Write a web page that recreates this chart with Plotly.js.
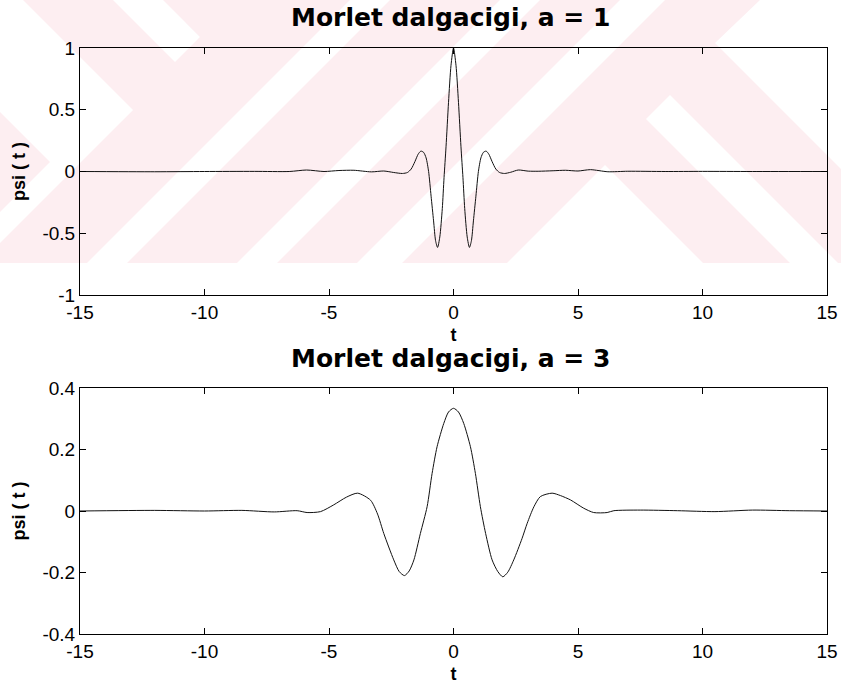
<!DOCTYPE html>
<html>
<head>
<meta charset="utf-8">
<script src="https://cdn.plot.ly/plotly-3.0.1.min.js"></script>
<style>
  html, body { margin: 0; padding: 0; background: #ffffff; }
  #chart { width: 841px; height: 688px; }
</style>
</head>
<body>
<div id="chart"></div>
<script>
// ---------- data ----------
const titles = ["Morlet dalgacigi, a = 1", "Morlet dalgacigi, a = 3"];
const xLabel = "t";
const yLabel = "psi ( t )";

// a = 1
const t1 = [-15, -12, -10, -8, -6.6, -5.9, -5.2, -4.6, -4.0, -3.3, -2.8, -2.4, -2.05, -1.85, -1.7, -1.55, -1.42, -1.31, -1.2, -1.1, -1.0, -0.9, -0.8, -0.72, -0.64, -0.55, -0.45, -0.38, -0.3, -0.2, -0.1, 0,
            0.1, 0.2, 0.3, 0.38, 0.45, 0.55, 0.64, 0.72, 0.8, 0.9, 1.0, 1.1, 1.2, 1.31, 1.42, 1.55, 1.7, 1.85, 2.05, 2.3, 2.6, 3.0, 3.4, 4.0, 4.5, 5.0, 5.5, 6.2, 7.0, 8.5, 10, 12, 15];
const psi1 = [0, -0.002, 0, 0.001, 0, 0.012, 0, 0.008, 0.01, -0.003, 0.004, -0.008, -0.016, -0.008, 0.02, 0.08, 0.14, 0.165, 0.155, 0.11, 0.0, -0.2, -0.4, -0.56, -0.615, -0.53, -0.3, -0.05, 0.2, 0.56, 0.86, 1.0,
              0.86, 0.56, 0.2, -0.05, -0.3, -0.53, -0.615, -0.56, -0.4, -0.2, 0.0, 0.11, 0.155, 0.165, 0.14, 0.08, 0.02, -0.008, -0.016, -0.006, 0.012, 0.003, 0.002, 0.006, 0.01, 0.004, 0.015, -0.002, 0.002, 0, 0.001, 0, 0];

// a = 3
const t3 = [-15, -12, -10, -8.5, -7.2, -6.28, -5.88, -5.34, -4.81, -4.3, -3.85, -3.33, -3.05, -2.8, -2.4, -2.18, -1.97, -1.78, -1.59, -1.33, -1.06, -0.86, -0.66, -0.39, -0.2, 0,
            0.2, 0.41, 0.68, 0.88, 1.08, 1.29, 1.55, 1.78, 1.98, 2.18, 2.42, 2.75, 2.96, 3.23, 3.49, 3.96, 4.3, 4.7, 5.23, 5.63, 6.17, 6.44, 7.5, 9, 10.5, 12, 13.5, 15];
const psi3 = [0, 0.002, 0, 0.002, -0.003, 0.001, -0.005, -0.002, 0.02, 0.045, 0.058, 0.035, -0.01, -0.073, -0.159, -0.197, -0.21, -0.195, -0.159, -0.073, 0.014, 0.122, 0.209, 0.285, 0.322, 0.334,
              0.322, 0.285, 0.209, 0.122, 0.014, -0.073, -0.159, -0.197, -0.214, -0.199, -0.159, -0.09, -0.04, 0.014, 0.047, 0.058, 0.05, 0.036, 0.009, -0.005, -0.005, 0.001, 0.003, 0.001, -0.002, 0.003, 0.001, 0];

// tick labels
const xTicks = [-15, -10, -5, 0, 5, 10, 15];
const xTickText = ["-15", "-10", "-5", "0", "5", "10", "15"];
const yTicks1 = [-1, -0.5, 0, 0.5, 1];
const yTickText1 = ["-1", "-0.5", "0", "0.5", "1"];
const yTicks3 = [-0.4, -0.2, 0, 0.2, 0.4];
const yTickText3 = ["-0.4", "-0.2", "0", "0.2", "0.4"];

// ---------- layout geometry (pixels) ----------
const W = 841, H = 688;
const M = { l: 80, r: 14, t: 48, b: 54 };
const PW = W - M.l - M.r, PH = H - M.t - M.b;
const px2x = x => (x - M.l) / PW;
const py2y = y => (H - M.b - y) / PH;

// faint pink scan watermark (decoration only, pixel polygons)
const PINK = "#fdeef1";
function poly(pts, color) {
  const d = pts.map((p, i) => (i ? "L" : "M") + px2x(p[0]).toFixed(4) + "," + py2y(p[1]).toFixed(4)).join(" ") + " Z";
  return { type: "path", xref: "paper", yref: "paper", path: d, fillcolor: color, line: { width: 0 }, layer: "below" };
}
const shapes = [
  poly([[0,0],[760,0],[715,43],[841,169],[841,263],[0,263]], PINK),
  poly([[0,0],[23,0],[133,110],[0,243]], "#ffffff"),
  poly([[0,112],[50,162],[0,212]], PINK),
  poly([[113,0],[163,0],[200,37],[175,62]], "#ffffff"),
  poly([[350,0],[390,0],[127,263],[87,263]], "#ffffff"),
  poly([[500,0],[540,0],[277,263],[237,263]], "#ffffff"),
  poly([[620,0],[665,0],[402,263],[357,263]], "#ffffff"),
  poly([[646,119],[670,95],[838,263],[790,263]], "#ffffff"),
  poly([[605,165],[703,263],[507,263]], "#ffffff")
];

const tickFont = { family: "Liberation Sans, Arial, sans-serif", size: 19, color: "#000" };
const labFont = { family: "Liberation Sans, Arial, sans-serif", size: 18, color: "#000", weight: "bold" };
const titleFont = { family: "DejaVu Sans, sans-serif", size: 25, color: "#000", weight: "bold" };

const lineStyle = { color: "#111", width: 1, shape: "spline", smoothing: 0.7 };

const data = [
  { x: t1, y: psi1, type: "scatter", mode: "lines", line: lineStyle, xaxis: "x", yaxis: "y", hoverinfo: "x+y" },
  { x: t3, y: psi3, type: "scatter", mode: "lines", line: lineStyle, xaxis: "x2", yaxis: "y2", hoverinfo: "x+y" }
];

function xax(anchor) {
  return {
    anchor: anchor, domain: [0, 1], range: [-15, 15],
    tickmode: "array", tickvals: xTicks, ticktext: xTickText,
    ticks: "inside", ticklen: 6, tickwidth: 1, tickcolor: "#000",
    showline: true, linecolor: "#000", linewidth: 1, mirror: "ticks",
    showgrid: false, zeroline: false, tickfont: tickFont,
    title: { text: xLabel, font: labFont, standoff: 6 }
  };
}
function yax(anchor, dom, rng, tv, tt) {
  return {
    anchor: anchor, domain: dom, range: rng,
    tickmode: "array", tickvals: tv, ticktext: tt,
    ticks: "inside", ticklen: 6, tickwidth: 1, tickcolor: "#000",
    showline: true, linecolor: "#000", linewidth: 1, mirror: "ticks",
    showgrid: false, zeroline: false, tickfont: tickFont,
    title: { text: yLabel, font: labFont, standoff: 12 }
  };
}

const topDom = [py2y(295), 1];
const botDom = [0, py2y(388)];

const layout = {
  width: W, height: H,
  margin: M,
  paper_bgcolor: "#ffffff",
  plot_bgcolor: "rgba(0,0,0,0)",
  showlegend: false,
  xaxis: xax("y"),
  yaxis: yax("x", topDom, [-1, 1], yTicks1, yTickText1),
  xaxis2: xax("y2"),
  yaxis2: yax("x2", botDom, [-0.4, 0.4], yTicks3, yTickText3),
  shapes: shapes,
  annotations: [
    { text: titles[0], xref: "paper", yref: "paper", x: px2x(450), y: py2y(18), xanchor: "center", yanchor: "middle", showarrow: false, font: titleFont },
    { text: titles[1], xref: "paper", yref: "paper", x: px2x(450), y: py2y(358), xanchor: "center", yanchor: "middle", showarrow: false, font: titleFont }
  ]
};

Plotly.newPlot("chart", data, layout, { staticPlot: true, displayModeBar: false });
</script>
</body>
</html>
